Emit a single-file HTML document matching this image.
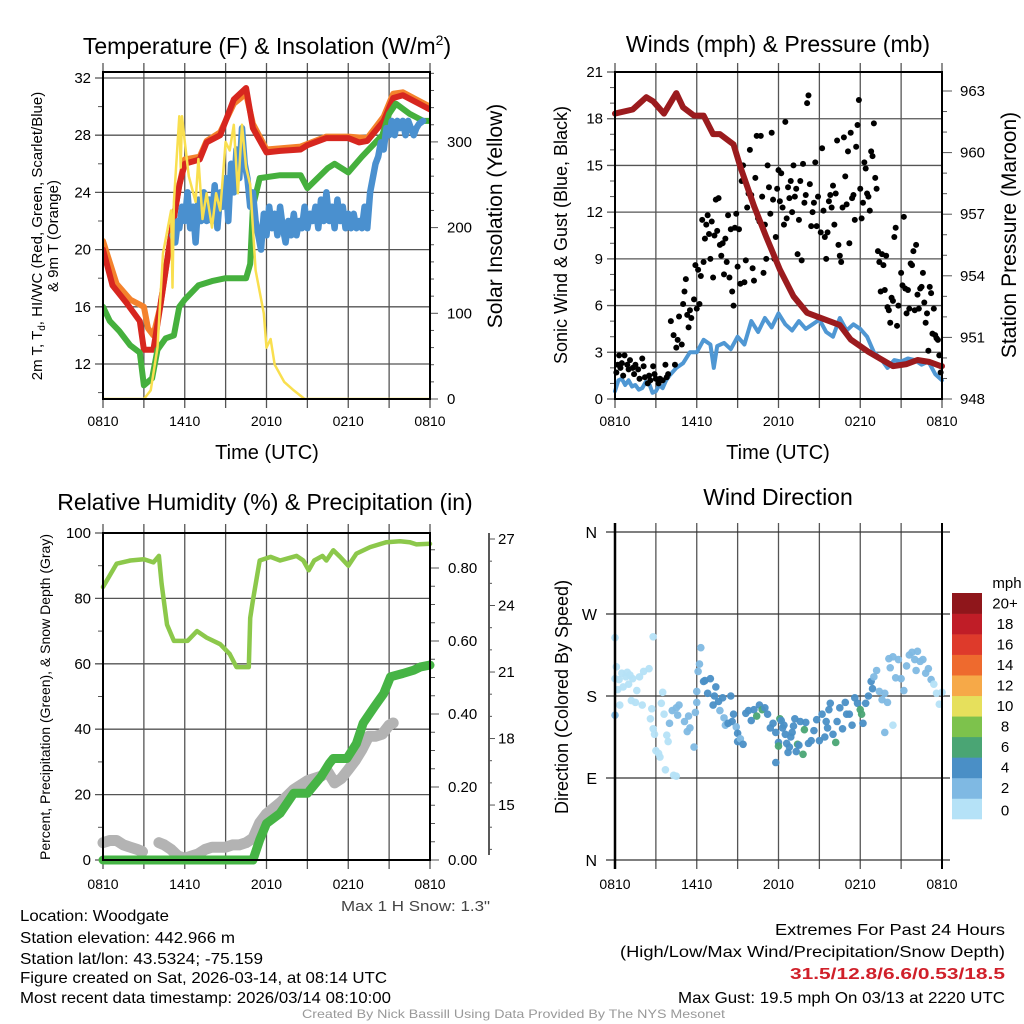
<!DOCTYPE html>
<html><head><meta charset="utf-8"><style>
html,body{margin:0;padding:0;background:#fff;}
svg{display:block;font-family:"Liberation Sans",sans-serif;}
</style></head><body>
<svg id="fig" width="1024" height="1024" viewBox="0 0 1024 1024" xmlns="http://www.w3.org/2000/svg">
<rect width="1024" height="1024" fill="#fff"/>
<g id="g1"></g>
<g id="g2"></g>
<g id="g3"></g>
<g id="g4"></g>
<g id="txt">
<text x="267" y="54" font-size="23" text-anchor="middle">Temperature (F) &amp; Insolation (W/m<tspan dy="-9" font-size="14">2</tspan><tspan dy="9">)</tspan></text>
<text x="778" y="52" font-size="23" text-anchor="middle">Winds (mph) &amp; Pressure (mb)</text>
<text x="265" y="510" font-size="23" text-anchor="middle">Relative Humidity (%) &amp; Precipitation (in)</text>
<text x="778" y="505" font-size="23" text-anchor="middle">Wind Direction</text>
<text x="267" y="459" font-size="20" text-anchor="middle">Time (UTC)</text>
<text x="778" y="459" font-size="20" text-anchor="middle">Time (UTC)</text>
<text font-size="15" text-anchor="middle" transform="translate(42,236) rotate(-90)">2m T, T<tspan font-size="10" dy="3">d</tspan><tspan dy="-3">, HI/WC (Red, Green, Scarlet/Blue)</tspan></text>
<text font-size="15" text-anchor="middle" transform="translate(58,236) rotate(-90)">&amp; 9m T (Orange)</text>
<text font-size="21" text-anchor="middle" transform="translate(502,216) rotate(-90)">Solar Insolation (Yellow)</text>
<text font-size="18" text-anchor="middle" transform="translate(567,235) rotate(-90)">Sonic Wind &amp; Gust (Blue, Black)</text>
<text font-size="21" text-anchor="middle" transform="translate(1016,235) rotate(-90)">Station Pressure (Maroon)</text>
<text font-size="14" text-anchor="middle" transform="translate(50,697) rotate(-90)">Percent, Precipitation (Green), &amp; Snow Depth (Gray)</text>
<text font-size="18" text-anchor="middle" transform="translate(568,697) rotate(-90)">Direction (Colored By Speed)</text>
<text x="341" y="911" font-size="15" fill="#444" textLength="149" lengthAdjust="spacingAndGlyphs">Max 1 H Snow: 1.3"</text>
<text x="20" y="921" font-size="16" textLength="149" lengthAdjust="spacingAndGlyphs">Location: Woodgate</text>
<text x="20" y="943" font-size="16" textLength="215" lengthAdjust="spacingAndGlyphs">Station elevation: 442.966 m</text>
<text x="20" y="964" font-size="16" textLength="243" lengthAdjust="spacingAndGlyphs">Station lat/lon: 43.5324; -75.159</text>
<text x="20" y="983" font-size="16" textLength="367" lengthAdjust="spacingAndGlyphs">Figure created on Sat, 2026-03-14, at 08:14 UTC</text>
<text x="20" y="1003" font-size="16" textLength="371" lengthAdjust="spacingAndGlyphs">Most recent data timestamp: 2026/03/14 08:10:00</text>
<text x="775" y="935" font-size="16" textLength="230" lengthAdjust="spacingAndGlyphs">Extremes For Past 24 Hours</text>
<text x="620" y="957" font-size="16" textLength="385" lengthAdjust="spacingAndGlyphs">(High/Low/Max Wind/Precipitation/Snow Depth)</text>
<text x="790" y="979" font-size="16" font-weight="bold" fill="#d0202a" textLength="215" lengthAdjust="spacingAndGlyphs">31.5/12.8/6.6/0.53/18.5</text>
<text x="678" y="1003" font-size="16" textLength="327" lengthAdjust="spacingAndGlyphs">Max Gust: 19.5 mph On 03/13 at 2220 UTC</text>
<text x="302" y="1018" font-size="12" fill="#999" textLength="423" lengthAdjust="spacingAndGlyphs">Created By Nick Bassill Using Data Provided By The NYS Mesonet</text>
</g>
</svg>
<script>
// ---------- data ----------
const xTickLabels = ["0810","1410","2010","0210","0810"];
const tempHours = [0,0.7,1.7,2.7,3,3.7,4.2,4.9,5.6,6,7.1,7.6,8.6,9.6,10.5,11,12,13,14.5,15,16.4,18,18.8,19.4,20.6,21.3,22,23,24];
const tempVals  = [20,17.5,16.3,15,13,13,16,20.5,24.5,26,26.3,27.5,28,30.5,31.3,28.5,26.8,26.9,27,27.3,27.8,27.8,27.5,27.6,29,30.6,30.8,30.3,29.8];
const t9Hours = [0,1,2,3,3.3,3.7,4.2,4.9,5.6,6,7.1,7.6,8.6,9.6,10.5,11,12,14.5,16.4,18,19.4,20.6,21.3,22,23,24];
const t9Vals  = [20.6,17.6,16.5,16,14.5,14,16,20.5,24.5,26.3,26.5,27.6,28.2,30.2,30.9,28.8,27,27.2,27.9,27.9,27.8,29.3,30.9,31,30.5,30];
const tdHours = [0,0.5,1.2,2,2.7,3,3.6,4,4.6,5.2,5.6,6,7,8,9,10.5,10.8,11,11.5,13,14.5,15,16.5,17,18,19,20.5,21,21.5,22.5,23.5,24];
const tdVals  = [16,15,14.3,13.3,12.8,10.5,11,13,13.8,14,16,16.5,17.5,17.8,18,18,19,23,25,25.2,25.2,24.3,25.7,26,25.4,26.5,28,29.5,30.2,29.5,29,29];
const hiHours = [5.1,5.3,5.5,5.6,5.8,6,6.2,6.4,6.6,6.8,7,7.2,7.4,7.6,7.8,8,8.2,8.4,8.6,8.8,9,9.2,9.4,9.6,9.8,10,10.2,10.4,10.6,10.8,11,11.2,11.4,11.6,11.8,12,12.2,12.4,12.6,12.8,13,13.2,13.4,13.6,13.8,14,14.2,14.4,14.6,14.8,15,15.2,15.4,15.6,15.8,16,16.2,16.4,16.6,16.8,17,17.2,17.4,17.6,17.8,18,18.2,18.4,18.6,18.8,19,19.2,19.4,19.6,19.8,20,20.2,20.4,20.6,20.8,21,21.2,21.4,21.6,21.8,22,22.2,22.4,22.6,22.8,23,23.2,23.5];
const hiVals  = [21,20.5,22,21.5,23,22,24,21.5,23,20.5,23.5,22,24,22,23.5,22,24.5,21.5,24,23,25,22,26,24,27,25,28.5,26,25,23,24,22,21,20,22.5,21,23,21.5,22.5,21,23,21.5,20.5,22,21,22.5,21,22,21.5,23,21.5,22.5,22,23,21.5,23.5,22,24,22,23,21.5,23.5,22,23,21.5,22.5,21.5,22.5,21.5,22,21.5,23,21.5,24,25,26,26.5,27.5,27,28.5,28,29,28,29,28.5,29,28,29,28.5,28,28.5,28.8,29];
const solHours = [0,3,3.5,4,4.4,5,5.1,5.2,5.6,5.7,5.8,6,6.3,6.8,7,7.3,7.6,8,8.3,8.6,9,9.3,9.6,9.9,10.2,10.5,10.8,11.2,11.8,12,12.3,12.6,13.3,14,14.8,24];
const solVals  = [0,0,10,60,170,220,130,230,330,270,330,300,260,230,280,210,240,200,240,220,300,290,320,240,320,270,250,150,100,60,70,40,20,10,0,0];
const windHours = [0,0.25,0.5,0.75,1,1.25,1.5,1.75,2,2.25,2.5,2.75,3,3.25,3.5,3.75,4,4.5,5,5.5,6,6.5,7,7.25,7.5,8,8.5,9,9.5,10,10.5,11,11.5,12,12.5,13,13.5,14,14.5,15,15.5,16,16.5,17,17.5,18,18.5,19,19.5,20,20.5,21,21.5,22,22.5,23,23.5,24];
const windVals  = [0.5,1.2,1.3,0.9,1.2,0.8,0.9,0.6,0.7,1.1,1.0,0.4,0.5,0.9,0.7,1.2,1.5,2.0,2.3,3.0,3.0,3.8,3.5,2.0,3.4,3.6,3.2,4.0,3.5,5.0,4.3,5.2,4.6,5.5,4.8,4.4,5.0,4.5,4.8,5.1,4.3,4.0,5.2,4.4,4.8,4.5,4.0,3.0,2.6,2.0,2.5,2.4,2.6,2.5,2.2,2.4,1.6,1.2];
const presHours = [0,1.3,2.3,2.8,3.6,4.5,5,5.8,6.5,7.2,7.7,8.7,9.2,10.2,11.1,12.1,13.1,14.1,15.3,16.5,17.3,18.6,20.4,21.4,22.2,23.1,23.9,24];
const presVals  = [961.9,962.1,962.7,962.5,961.9,962.9,962.2,961.8,961.8,960.9,960.9,960.4,959.3,957.4,955.9,954.3,953,952.2,951.9,951.6,950.9,950.3,949.6,949.7,949.9,949.8,949.6,949.6];
const gustHours = [0.1,0.2,0.3,0.4,0.5,0.6,0.7,0.9,1.0,1.1,1.3,1.4,1.5,1.7,1.8,2.0,2.1,2.2,2.4,2.5,2.6,2.8,2.9,3.0,3.2,3.3,3.5,3.7,3.8,3.9,4.1,4.3,4.4,4.5,4.6,4.7,4.9,5.0,5.1,5.2,5.3,5.4,5.5,5.6,5.8,5.9,6.0,6.1,6.2,6.3,6.4,6.5,6.6,6.7,6.8,6.9,7.0,7.1,7.2,7.3,7.4,7.5,7.6,7.7,7.8,7.9,8.0,8.1,8.2,8.3,8.4,8.5,8.6,8.7,8.8,8.9,9.0,9.1,9.2,9.3,9.4,9.5,9.6,9.7,9.8,9.9,10.0,10.1,10.2,10.3,10.4,10.5,10.6,10.7,10.8,10.9,11.0,11.1,11.2,11.3,11.4,11.5,11.6,11.7,11.8,11.9,12.0,12.1,12.2,12.3,12.4,12.5,12.6,12.7,12.8,12.9,13.0,13.1,13.2,13.3,13.4,13.5,13.6,13.7,13.8,13.9,14.0,14.1,14.2,14.3,14.4,14.5,14.6,14.7,14.8,14.9,15.1,15.2,15.3,15.4,15.5,15.6,15.7,15.8,15.9,16.0,16.1,16.2,16.3,16.4,16.5,16.6,16.7,16.8,16.9,17.0,17.1,17.2,17.3,17.4,17.5,17.6,17.7,17.8,17.9,18.0,18.1,18.2,18.3,18.4,18.5,18.6,18.7,18.8,18.9,19.0,19.1,19.2,19.3,19.4,19.5,19.6,19.7,19.8,19.9,20.0,20.1,20.2,20.3,20.4,20.5,20.6,20.7,20.8,21.0,21.1,21.2,21.3,21.4,21.5,21.6,21.7,21.8,21.9,22.0,22.1,22.2,22.3,22.4,22.5,22.6,22.7,22.8,22.9,23.0,23.1,23.2,23.3,23.4,23.5,23.6,23.7,23.8,23.9];
const gustVals  = [1.7,2.2,2.8,2.0,2.3,1.5,2.8,2.2,1.9,2.5,2.0,1.6,2.2,1.9,1.3,2.6,2.1,1.4,1.0,1.5,1.2,2.1,1.6,1.3,1.0,1.3,1.2,2.2,1.4,1.6,5.0,4.1,2.2,3.3,3.8,5.3,3.5,6.1,6.9,7.7,5.4,4.6,5.7,5.2,6.4,8.6,5.8,8.3,6.1,7.9,11.5,8.8,10.3,11.2,11.8,10.6,9.0,11.4,7.8,10.5,12.8,10.8,12.9,9.9,9.2,10.0,8.0,10.3,8.8,11.8,7.8,10.9,6.9,6.0,11.0,11.9,8.5,10.9,7.4,14.0,15.0,7.5,8.9,12.3,13.2,16.0,13.1,8.4,7.6,14.2,16.9,11.6,11.4,16.9,13.0,8.1,11.2,9.0,15.0,13.6,11.9,17.1,12.8,9.0,10.4,13.5,14.7,12.7,14.5,12.3,11.2,17.8,11.6,13.6,12.9,14.0,12.0,15.0,13.0,13.5,9.3,11.5,14.0,8.9,15.1,12.6,13.1,19.0,19.5,13.8,11.1,12.0,12.6,15.2,11.1,13.0,10.7,16.1,12.1,10.4,9.0,10.7,12.7,13.1,12.3,13.7,11.2,13.2,16.6,9.9,9.2,8.8,12.3,16.8,14.3,12.5,15.9,10.0,17.1,12.9,13.1,11.5,16.2,17.6,19.2,13.5,11.6,12.6,15.2,14.8,13.2,13.0,12.1,15.9,15.6,17.7,14.2,13.5,9.5,8.8,6.9,9.3,8.6,7.0,9.2,5.9,5.7,4.9,6.5,6.3,10.4,11.0,4.7,6.0,8.1,7.3,11.7,7.1,5.5,7.0,5.8,8.7,8.6,9.5,5.7,9.9,6.7,5.8,7.1,7.2,8.1,6.2,4.9,5.5,3.1,7.2,6.8,4.2,5.8,4.1,3.9,3.8,2.8,1.7];
const rhHours = [0,1,2,3,3.7,4.1,4.3,4.7,5.2,6.2,6.9,7.6,8.6,9.3,9.8,10.7,10.8,11,11.5,12.3,13,14.2,14.7,15.1,15.5,16.1,16.4,16.9,17.4,18,18.6,19.6,20.8,21.8,22.5,23,24];
const rhVals  = [83.5,90.6,91.6,92,91,93,84.5,72,67,67,70,68,66,63,59,59,74,79.4,91.6,92.7,91.6,93,91.6,88.6,91.6,93,91.6,94.7,92.7,90,93.7,95.7,97.2,97.5,97.2,96.5,96.7];
const precipHours = [0,11,11.5,12,13,14,15,16,16.6,16.9,17.9,18.6,19.1,19.9,20.6,21.1,22,22.8,23.3,24];
const precipVals  = [0,0,0.055,0.10,0.128,0.183,0.183,0.228,0.264,0.278,0.278,0.319,0.375,0.419,0.456,0.502,0.511,0.52,0.529,0.534];
const snowHours = [0,0.5,1,1.5,2,2.5,2.9,null,4.1,4.5,5,5.5,6,6.5,7,7.5,8,8.5,9,9.5,10,10.5,11,11.5,12,13,14,15,16,16.5,17,17.5,18,18.5,19,19.5,20,20.5,21,21.3];
const snowVals  = [13.3,13.4,13.4,13.2,13.1,13.0,12.9,null,13.3,13.2,13.0,12.7,12.6,12.7,12.8,13.0,13.1,13.1,13.1,13.2,13.2,13.3,13.5,14.2,14.6,15.1,15.7,16.1,16.3,16.5,16.0,16.2,16.6,17.0,17.5,18.1,18.1,18.2,18.6,18.7];
const dirHours = [0.0,0.1,0.2,0.3,0.35,0.5,0.6,0.8,0.9,1.0,1.1,1.2,1.3,1.5,1.6,1.8,2.0,2.1,0.0,2.8,2.5,0.0,2.6,2.7,2.8,2.9,3.0,3.2,3.3,3.4,3.5,3.6,3.7,3.8,3.9,4.3,4.5,4.0,4.2,4.5,4.6,4.7,5.1,5.3,5.4,5.5,5.8,5.9,6.0,6.0,6.1,6.2,6.3,6.5,6.6,6.8,7.0,7.2,7.3,7.4,7.6,7.7,7.9,8.0,8.1,8.3,8.5,8.6,8.7,8.9,9.0,9.0,9.2,9.4,9.6,9.8,10.0,10.2,10.4,10.6,10.8,11.0,11.2,11.4,11.6,11.8,12.0,11.8,12.0,12.1,12.2,12.3,12.4,12.5,12.6,12.7,12.8,12.9,13.0,13.1,13.2,13.3,13.4,13.5,13.6,13.8,13.9,14.0,14.2,14.4,14.6,14.8,15.0,15.2,15.4,15.5,15.6,15.7,15.8,16.0,16.2,16.3,16.5,16.7,16.9,17.0,17.2,17.4,17.6,17.8,18.0,18.1,18.2,18.4,18.6,18.8,18.9,19.0,19.2,19.4,19.6,19.8,20.0,20.1,20.2,20.4,20.6,20.8,21.0,21.2,21.4,21.6,21.8,22.0,22.1,22.2,22.4,22.6,22.8,23.0,23.2,23.4,23.6,23.8,24.0,20.4,19.8];
const dirVals  = [199,212,187,198,170,205,190,201,206,193,203,175,199,173,186,201,170,207,244,245,210,159,155,166,144,138,120,117,113,172,184,160,99,137,130,93,92,150,164,167,159,170,152,141,158,145,124,162,173,185,207,215,233,196,197,183,199,170,180,190,174,164,178,156,148,150,180,152,160,146,139,130,133,127,161,164,153,165,158,170,165,167,160,145,150,140,129,107,125,155,153,145,148,138,128,118,124,135,140,147,155,119,127,126,152,116,143,151,128,131,142,154,131,160,135,152,145,165,172,138,129,152,167,144,173,160,160,148,178,172,165,160,150,172,180,196,188,201,208,185,176,183,173,221,211,223,200,220,199,186,213,225,228,220,208,229,218,220,205,210,198,193,183,171,184,148,140];
const dirSpeeds = [1,1.5,1,1,1.5,1,1,1.2,1.4,1.2,1,1,1,1,1,1,1.2,0.8,1,1,1,2.5,1.5,1,1,1,1,1,1,1,1,1,1,1,1,1,1,2,2,3,3,3,3,3,3,3,3,3,3,3,3,3,3,4,4,4,4,4,4,4,4,3,4,3,3,4,4,4,4,3,4,4,3,4,4,4,4,4,6,4,6,4,4,4,4,4,4,5,6,6,4,4,4,4,4,4,4,4,4,5,4,4,6,4,4,6,6,4,4,4,4,4,4,4,4,4,4,4,4,4,6,4,4,4,4,4,4,4,4,4,6,6,4,4,4,4,4,3,3,3,3,3,3,3,3,3,3,3,3,3,3,3,3,3,3,3,3,3,3,3,3,1,1,1,1,1,2.5,3];
const cbLabels = ["0","2","4","6","8","10","12","14","16","18","20+"];
const cbColors = ["#b5e2f7","#7fb9e3","#4a8fc6","#4aa574","#7dc24c","#e6e05c","#f6a948","#ee6a2e","#de3a2b","#c01d27","#8f161b"];

// ---------- helpers ----------
const NS="http://www.w3.org/2000/svg";
function mk(parent,tag,attrs){const e=document.createElementNS(NS,tag);for(const k in attrs)e.setAttribute(k,attrs[k]);parent.appendChild(e);return e;}
function line(p,x1,y1,x2,y2,st,w){return mk(p,"line",{x1:x1,y1:y1,x2:x2,y2:y2,stroke:st,"stroke-width":w});}
function txt(p,x,y,s,anchor,size){const t=mk(p,"text",{x:x,y:y,"font-size":size||14,"text-anchor":anchor||"middle"});t.textContent=s;return t;}
function poly(p,hs,vs,xf,yf,color,w){
  let d="",pen=false;
  for(let i=0;i<hs.length;i++){
    if(hs[i]===null||vs[i]===null){pen=false;continue;}
    d+=(pen?"L":"M")+xf(hs[i]).toFixed(1)+","+yf(vs[i]).toFixed(1);pen=true;
  }
  return mk(p,"path",{d:d,fill:"none",stroke:color,"stroke-width":w,"stroke-linejoin":"round","stroke-linecap":"round"});
}
function clip(id,x0,y0,x1,y1){const c=mk(document.getElementById("fig"),"clipPath",{id:id});mk(c,"rect",{x:x0,y:y0,width:x1-x0,height:y1-y0});}
function timeAxis(p,P,gridTop,labelY){
  const xf=h=>P.x0+h*(P.x1-P.x0)/24;
  for(let h=0;h<=24;h+=3){
    const x=xf(h);
    line(p,x,gridTop,x,P.y1+9,"#555",1.3);
  }
  for(let i=0;i<xTickLabels.length;i++){
    const t=txt(p,xf(i*6),labelY,xTickLabels[i],"middle",14);
    
    
  }
  return xf;
}

// ---------- Panel 1 ----------
(function(){
  const g=document.getElementById("g1");
  const P={x0:103,x1:430,y0:72,y1:399};
  const yT=v=>78+(32-v)*14.3, yS=w=>399-w*0.857;
  const xf=timeAxis(g,P,P.y0-9,426);
  for(let v=12;v<=32;v+=4){line(g,P.x0-8,yT(v),P.x1,yT(v),"#555",1.3);const t=txt(g,P.x0-12,yT(v)+5,String(v),"end",15);}
  for(let v=10;v<=32;v+=2){if(v%4)line(g,P.x0-5,yT(v),P.x0,yT(v),"#555",1);}
  for(let w=0;w<=380;w+=20){line(g,P.x1,yS(w),P.x1+(w%100?4:8),yS(w),"#555",1);}
  for(let w=0;w<=300;w+=100){const t=txt(g,P.x1+17,yS(w)+5,String(w),"start",15);}
  clip("c1",P.x0,P.y0,P.x1,P.y1);
  const s=mk(g,"g",{"clip-path":"url(#c1)"});
  let e;
  e=poly(s,t9Hours,t9Vals,xf,yT,"#f4822c",6);
  e=poly(s,tempHours,tempVals,xf,yT,"#d7261f",6);
  e=poly(s,tdHours,tdVals,xf,yT,"#45b03d",6);
  e=poly(s,hiHours,hiVals,xf,yT,"#4a90cf",6.5);
  e=poly(s,solHours,solVals,xf,yS,"#f9df4f",2.5);
  const f=mk(g,"rect",{x:P.x0,y:P.y0,width:P.x1-P.x0,height:P.y1-P.y0,fill:"none",stroke:"#000","stroke-width":2});
  
})();

// ---------- Panel 2 ----------
(function(){
  const g=document.getElementById("g2");
  const P={x0:615,x1:942,y0:72,y1:399};
  const yW=v=>399-v*(327/21), yP=p=>399-(p-948)*(308/15);
  const xf=timeAxis(g,P,P.y0-9,426);
  for(let v=0;v<=21;v+=3){line(g,P.x0-8,yW(v),P.x1,yW(v),"#555",1.3);const t=txt(g,P.x0-12,yW(v)+5,String(v),"end",15);}
  for(let v=1;v<21;v++){if(v%3)line(g,P.x0-5,yW(v),P.x0,yW(v),"#555",1);}
  for(let p=948;p<=963.9;p++){line(g,P.x1,yP(p),P.x1+((p-948)%3?5:10),yP(p),"#555",1);}
  for(let p=948;p<=963;p+=3){const t=txt(g,P.x1+18,yP(p)+5,String(p),"start",15);}
  clip("c2",P.x0-3,P.y0,P.x1+3,P.y1);
  const s=mk(g,"g",{"clip-path":"url(#c2)"});
  let e=poly(s,windHours,windVals,xf,yW,"#4f97d3",4);
  for(let i=0;i<gustHours.length;i++){
    const c=mk(s,"circle",{cx:xf(gustHours[i]),cy:yW(gustVals[i]),r:3,fill:"#000"});
    
    
  }
  e=poly(s,presHours,presVals,xf,yP,"#9b1b1e",6);
  const f=mk(g,"rect",{x:P.x0,y:P.y0,width:P.x1-P.x0,height:P.y1-P.y0,fill:"none",stroke:"#000","stroke-width":2});
  
})();

// ---------- Panel 3 ----------
(function(){
  const g=document.getElementById("g3");
  const P={x0:103,x1:430,y0:533,y1:860};
  const yR=v=>860-v*3.27, yPr=p=>860-p*365, ySn=s=>539+(27-s)*22.17;
  const xf=timeAxis(g,P,P.y0-9,889);
  for(let v=0;v<=100;v+=20){line(g,P.x0-8,yR(v),P.x1,yR(v),"#555",1.3);const t=txt(g,P.x0-12,yR(v)+5,String(v),"end",15);}
  for(let v=10;v<100;v+=20)line(g,P.x0-5,yR(v),P.x0,yR(v),"#555",1);
  for(let i=0;i<=17;i++){const p=i*0.05;line(g,P.x1,yPr(p),P.x1+(i%4?5:9),yPr(p),"#555",1);}
  for(let i=0;i<=4;i++){const t=txt(g,P.x1+18,yPr(i*0.2)+5,(i*0.2).toFixed(2),"start",15);}
  line(g,489,533,489,855,"#222",1.5);
  for(let sv=13;sv<=27;sv++){line(g,489,ySn(sv),489+(sv%3?3:6),ySn(sv),"#555",1);}
  for(let sv=15;sv<=27;sv+=3){const t=txt(g,498,ySn(sv)+5,String(sv),"start",15);}
  clip("c3",P.x0-8,P.y0,P.x1+8,P.y1+8);
  const s=mk(g,"g",{"clip-path":"url(#c3)"});
  let e=poly(s,snowHours,snowVals,xf,ySn,"#b3b3b3",11);
  e=poly(s,precipHours,precipVals,xf,yPr,"#46b445",9);
  e=poly(s,rhHours,rhVals,xf,yR,"#8cc84b",4.5);
  const f=mk(g,"rect",{x:P.x0,y:P.y0,width:P.x1-P.x0,height:P.y1-P.y0,fill:"none",stroke:"#000","stroke-width":2});
  
})();

// ---------- Panel 4 ----------
(function(){
  const g=document.getElementById("g4");
  const P={x0:615,x1:942,y0:532,y1:860};
  const yD=d=>860-d*(328/360);
  const xf=timeAxis(g,P,P.y0-9,889);
  const dl=["N","E","S","W","N"];
  for(let i=0;i<=4;i++){line(g,P.x0-9,yD(i*90),P.x1+8,yD(i*90),"#333",1.3);const t=txt(g,P.x0-18,yD(i*90)+6,dl[i],"end",16);}
  for(let i=0;i<dirHours.length;i++){
    const b=Math.min(10,Math.floor(dirSpeeds[i]/2));
    const c=mk(g,"circle",{cx:xf(dirHours[i]),cy:yD(dirVals[i]),r:3.8,fill:cbColors[b],"fill-opacity":0.95});
    
    
  }
  line(g,P.x0,P.y0-9,P.x0,P.y1+9,"#000",2.5);
  line(g,P.x1,P.y0-9,P.x1,P.y1+9,"#000",2);
  const bh=226/11;
  for(let i=0;i<cbColors.length;i++){
    const y=819-(i+1)*bh;
    const r=mk(g,"rect",{x:952,y:y,width:30,height:bh+0.3,fill:cbColors[i]});
    
    
    const t=txt(g,1005,y+bh/2+5+(i===0?2:0),cbLabels[i],"middle",15);
    
    
  }
  const u=txt(g,1007,588,"mph","middle",15);
})();
</script>
</body></html>
